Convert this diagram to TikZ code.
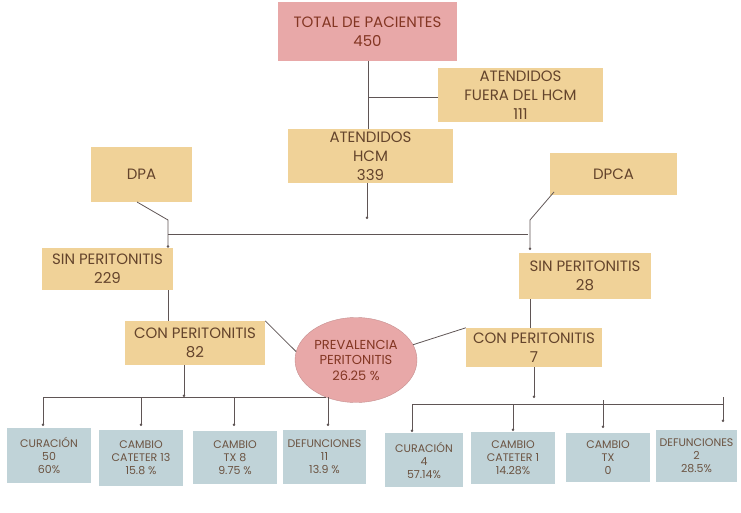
\documentclass[tikz,border=0pt]{standalone}
\usepackage{fontspec}
\setmainfont{Poppins}
\usetikzlibrary{arrows.meta,shapes.geometric}
\definecolor{rosa}{RGB}{232,168,168}
\definecolor{arena}{RGB}{240,210,152}
\definecolor{gris}{RGB}{192,211,216}
\definecolor{linea}{RGB}{95,85,85}
\definecolor{tinta}{RGB}{100,68,44}

\begin{document}
\begin{tikzpicture}[x=1pt,y=-1pt,
          caja/.style={fill=arena,text=tinta,align=center,inner sep=0pt,
                       font=\fontsize{15}{19}\selectfont},
          hoja/.style={fill=gris,text=tinta!75!gray,align=center,inner sep=0pt,
                       font=\fontsize{11}{13}\selectfont},
          rama/.style={draw=linea,line width=0.8pt},
          punta/.style={rama,-{Circle[length=2.4pt]}}]
        \useasboundingbox (0,0) rectangle (741,513);

        % niveles superiores
        \node[caja,fill=rosa,text=tinta!80!red,minimum width=179,minimum height=59] (total) at (367.5,31.5) {TOTAL DE PACIENTES\\450};
        \node[caja,minimum width=165,minimum height=54] (fuera) at (520.5,95) {ATENDIDOS\\FUERA DEL HCM\\111};
        \node[caja,minimum width=165,minimum height=54] (hcm) at (370.5,156) {ATENDIDOS\\HCM\\339};
        \node[caja,minimum width=101,minimum height=55] (dpa) at (141.5,174.5) {DPA};
        \node[caja,minimum width=127,minimum height=42] (dpca) at (613.5,174) {DPCA};
        \node[caja,minimum width=131,minimum height=42] (sinA) at (107.5,269) {SIN PERITONITIS\\229};
        \node[caja,minimum width=132,minimum height=46] (sinB) at (585,276) {SIN PERITONITIS\\28};
        \node[caja,minimum width=140,minimum height=44] (conA) at (195,343) {CON PERITONITIS\\82};
        \node[caja,minimum width=136,minimum height=39] (conB) at (534,347.5) {CON PERITONITIS\\7};
        \node[ellipse,fill=rosa,draw=rosa!85!black,line width=0.4pt,text=tinta!80!red,align=center,
              inner sep=0pt,minimum width=122,minimum height=85,font=\fontsize{13}{15.5}\selectfont]
          (prev) at (356,360) {PREVALENCIA\\PERITONITIS\\26.25 \%};

        % resultados
        \node[hoja,minimum width=84,minimum height=55] (curA) at (49,455.5) {CURACIÓN\\50\\60\%};
        \node[hoja,minimum width=84,minimum height=56] (catA) at (141,458) {CAMBIO\\CATETER 13\\15.8 \%};
        \node[hoja,minimum width=84,minimum height=53] (txA) at (235,457.5) {CAMBIO\\TX 8\\9.75 \%};
        \node[hoja,minimum width=83,minimum height=54] (defA) at (324.5,457) {DEFUNCIONES\\11\\13.9 \%};
        \node[hoja,minimum width=78,minimum height=54] (curB) at (424,460) {CURACIÓN\\4\\57.14\%};
        \node[hoja,minimum width=84,minimum height=52] (catB) at (513,458) {CAMBIO\\CATETER 1\\14.28\%};
        \node[hoja,minimum width=84,minimum height=49] (txB) at (608,457.5) {CAMBIO\\TX\\0};
        \node[hoja,minimum width=81,minimum height=52] (defB) at (696.5,456) {DEFUNCIONES\\2\\28.5\%};

        \coordinate (tA) at (368,61);
        \coordinate (tB) at (368,97);
        \coordinate (hA) at (367,219);
        \coordinate (bA) at (168,234);
        \coordinate (bB) at (528,234);
        \coordinate (pA) at (137,202);
        \coordinate (pB) at (168,220);
        \coordinate (qA) at (554,192);
        \coordinate (qB) at (530,220);
        \coordinate (cA) at (184,397);
        \coordinate (cB) at (534,398);

        % conectores
        \draw[rama] (tA) -- (tA |- hcm.north);
        \draw[rama] (tB) -- (tB -| fuera.west);
        \draw[punta] (hcm.south -| hA) -- (hA);
        \draw[rama] (bA) -- (bB);
        \draw[punta] (pA) -- (pB) -- (pB |- sinA.north);
        \draw[punta] (qA) -- (qB) -- (530,250);
        \draw[rama] (168,290) -- (168,321);
        \draw[rama] (530,299) -- (530,328);
        \draw[rama] (conA.north east) -- (prev.172);
        \draw[rama] (prev.15) -- (conB.north west);
        \draw[punta] (conA.south -| cA) -- (cA);
        \draw[punta] (conB.south -| cB) -- (cB);
        \draw[rama] (43,397) -- (326,397);
        \draw[rama] (412,404) -- (723,404);
        \foreach \x in {43,141,234,328}
          \draw[punta] (\x,397) -- (\x,426);
        \draw[punta] (412,404) -- (412,432);
        \draw[punta] (513,404) -- (513,431);
        \draw[punta] (603,400) -- (603,428);
        \draw[punta] (723,397) -- (723,422);
      \end{tikzpicture}
\end{document}
